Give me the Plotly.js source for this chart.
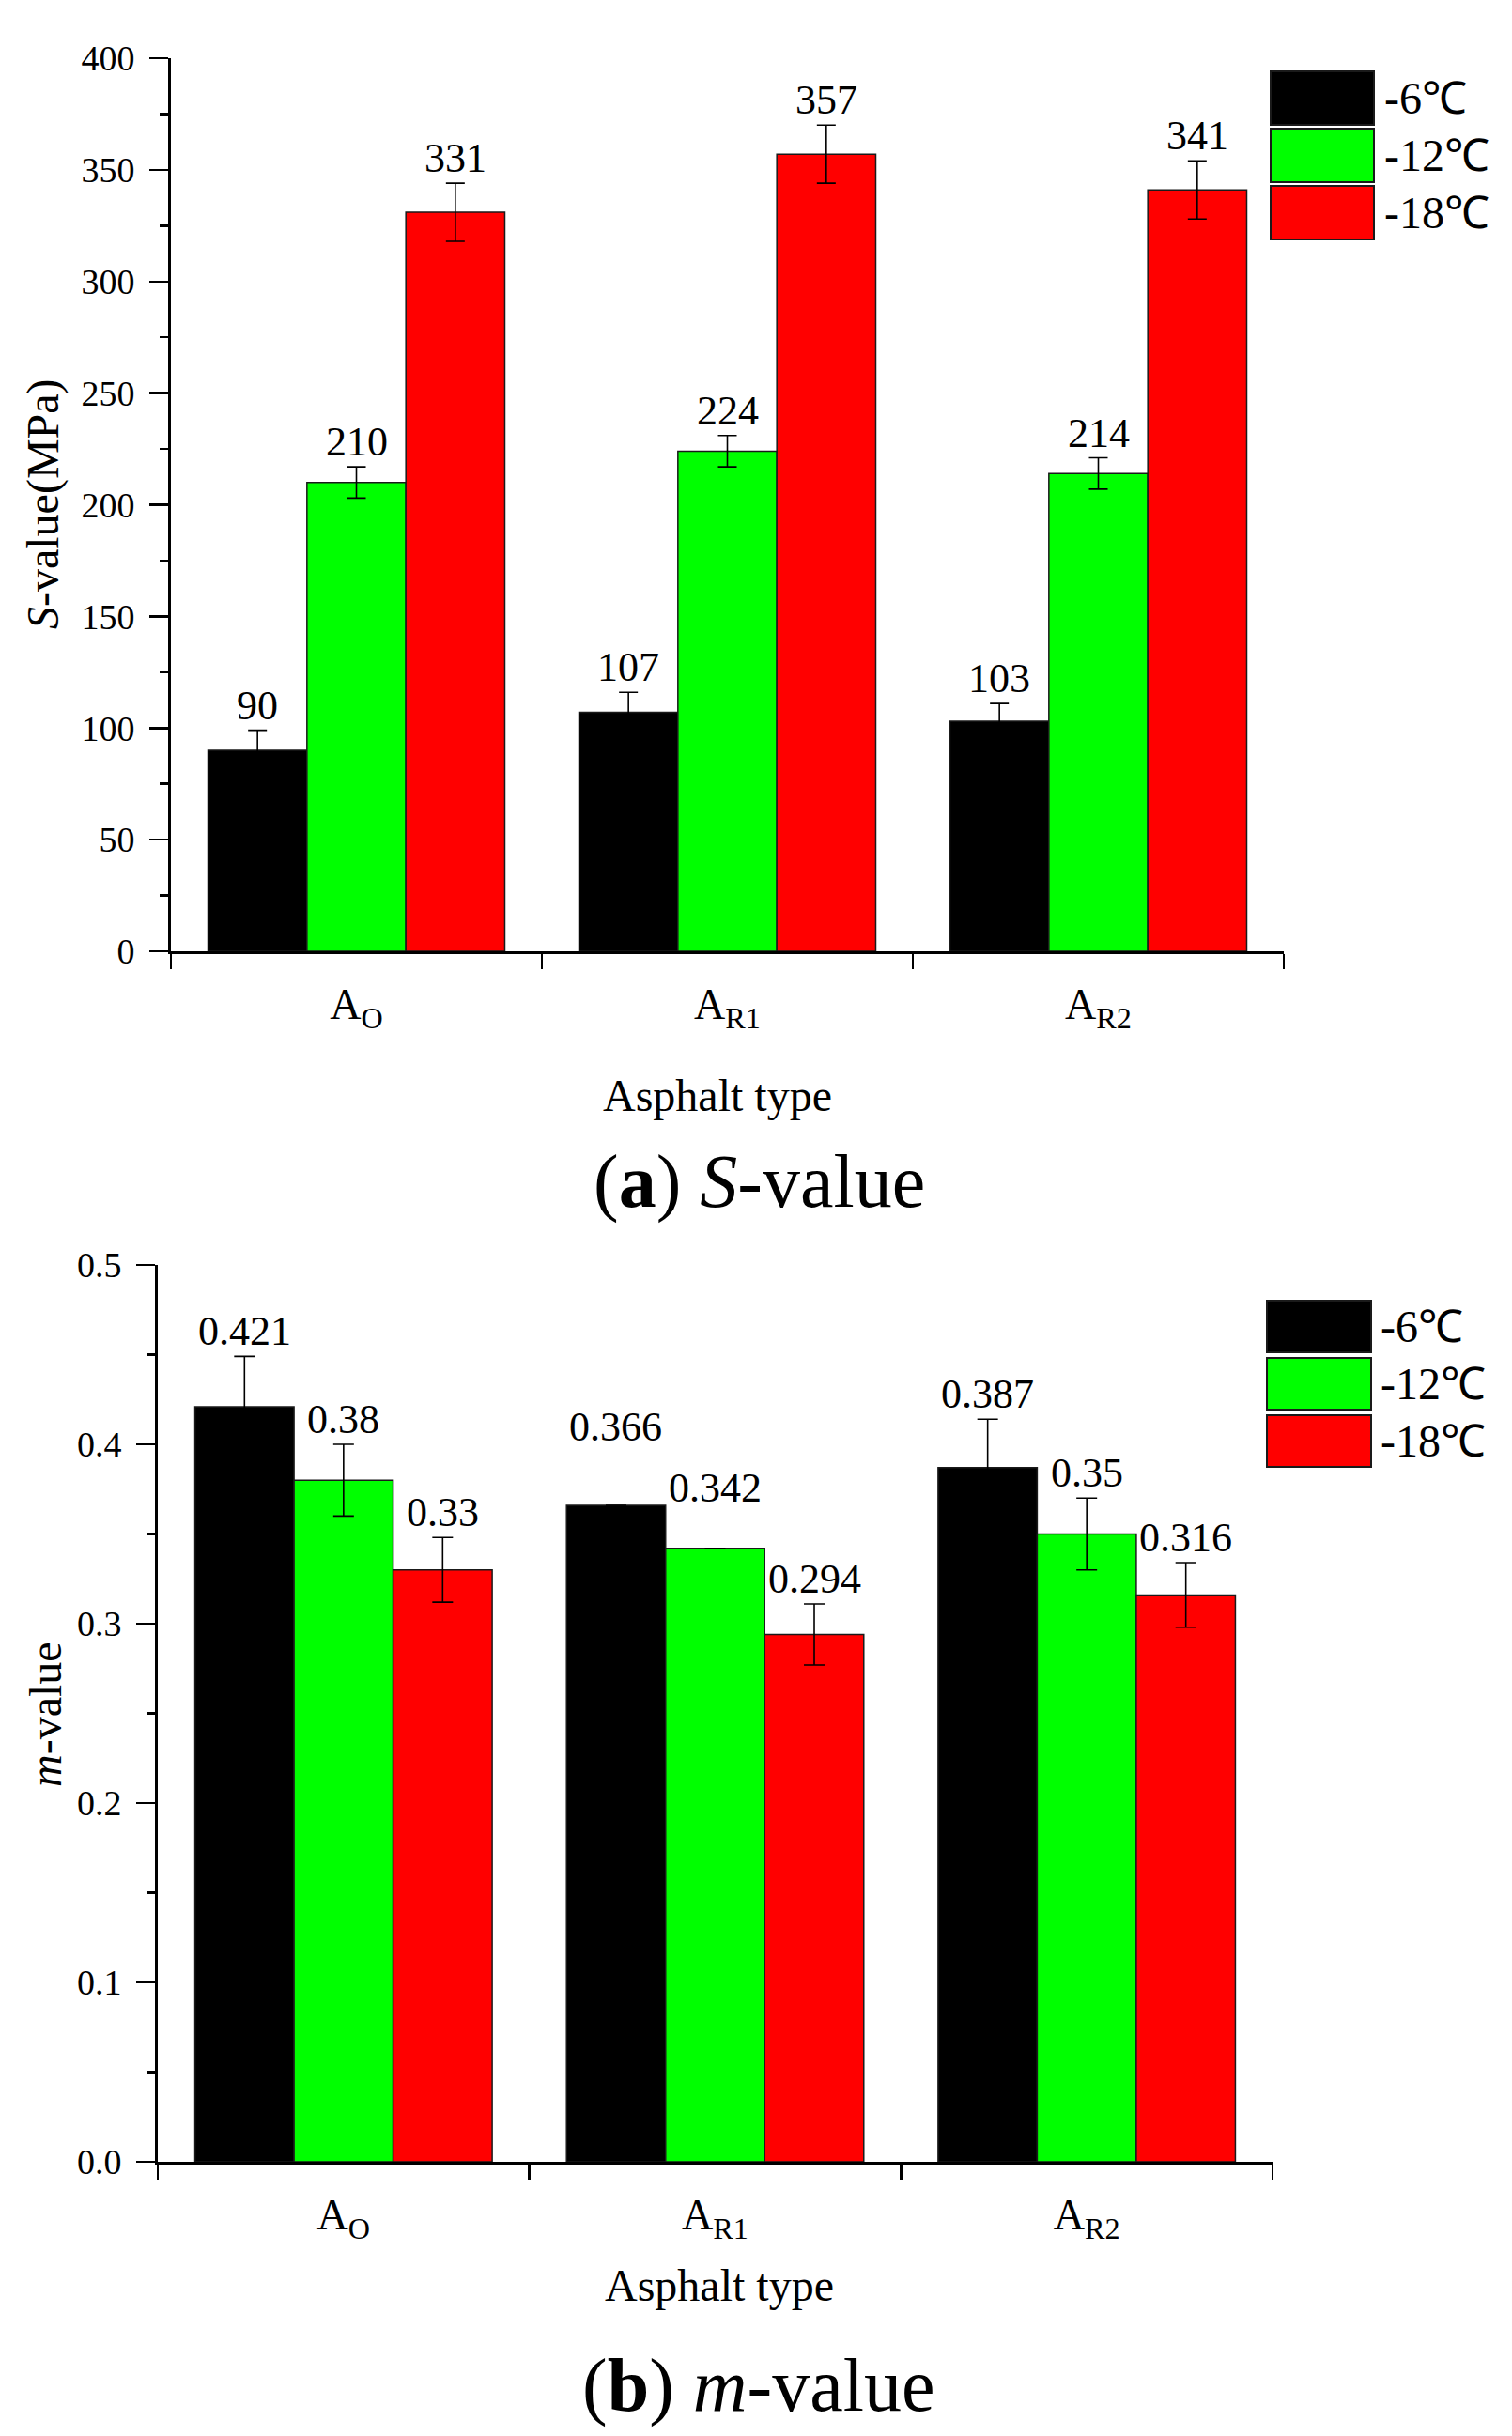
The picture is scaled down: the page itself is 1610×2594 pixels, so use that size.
<!DOCTYPE html>
<html>
<head>
<meta charset="utf-8">
<script src="https://cdn.plot.ly/plotly-3.0.1.min.js"></script>
<style>
  html, body { margin: 0; padding: 0; background: #fff; }
  #myDiv { width: 1610px; height: 2594px; }
</style>
</head>
<body>
<div id="myDiv"></div>
<script>
  // categories and series
  var categories = ['A<sub>O</sub>', 'A<sub>R1</sub>', 'A<sub>R2</sub>'];
  var seriesNames = ['-6℃', '-12℃', '-18℃'];
  var seriesColors = ['#000000', '#00ff00', '#ff0000'];

  // (a) S-value, MPa
  var sMinus6 = [90, 107, 103];
  var sMinus12 = [210, 224, 214];
  var sMinus18 = [331, 357, 341];
  var sErrMinus6 = [9, 9, 8];
  var sErrMinus12 = [7, 7, 7];
  var sErrMinus18 = [13, 13, 13];

  // (b) m-value  (null = no error bar shown)
  var mMinus6 = [0.421, 0.366, 0.387];
  var mMinus12 = [0.38, 0.342, 0.35];
  var mMinus18 = [0.33, 0.294, 0.316];
  var mErrMinus6 = [0.028, null, 0.027];
  var mErrMinus12 = [0.02, null, 0.02];
  var mErrMinus18 = [0.018, 0.017, 0.018];
  // how far each value label sits above its bar top
  var mLiftMinus6 = [0.028, 0.03, 0.027];
  var mLiftMinus12 = [0.02, 0.02, 0.02];
  var mLiftMinus18 = [0.018, 0.017, 0.018];

  var W = 1610, H = 2594;
  var serif = "Liberation Serif, Times New Roman, serif";
  var bargap = 0.2;
  var px = function (x) { return x / W; };   // pixel -> paper
  var py = function (y) { return 1 - y / H; };

  var dom1 = { x: [px(182), px(1367)], y: [py(1013), py(62)] };
  var dom2 = { x: [px(168), px(1355)], y: [py(2302), py(1347)] };

  var sVals = [sMinus6, sMinus12, sMinus18];
  var sErrs = [sErrMinus6, sErrMinus12, sErrMinus18];
  var mVals = [mMinus6, mMinus12, mMinus18];
  var mErrs = [mErrMinus6, mErrMinus12, mErrMinus18];
  var mLift = [mLiftMinus6, mLiftMinus12, mLiftMinus18];

  var data = [];
  var annotations = [];
  var shapes = [];

  function addPanel(vals, errs, lifts, xa, ya, dom, capW) {
    var plotW = (dom.x[1] - dom.x[0]) * W;
    var barW = plotW / categories.length * (1 - bargap) / vals.length;
    for (var i = 0; i < vals.length; i++) {
      data.push({
        type: 'bar',
        name: seriesNames[i],
        x: categories,
        y: vals[i],
        xaxis: xa, yaxis: ya,
        showlegend: false,
        marker: { color: seriesColors[i], line: { color: '#1a1a1a', width: 1.5 } },
        error_y: { type: 'data', array: errs[i], visible: true, color: '#000', thickness: 1.6, width: capW }
      });
      for (var j = 0; j < categories.length; j++) {
        annotations.push({
          xref: xa, yref: ya,
          x: categories[j], y: vals[i][j] + (lifts[i][j] || 0),
          xshift: (i - 1) * barW,
          yanchor: 'bottom', showarrow: false,
          text: String(vals[i][j]),
          font: { family: serif, size: 44, color: '#000' }
        });
      }
    }
  }

  addPanel(sVals, sErrs, sErrs, 'x', 'y', dom1, 10);
  addPanel(mVals, mErrs, mLift, 'x2', 'y2', dom2, 11);

  // legend boxes, one per panel
  function addLegend(x0, x1, top, h, step, textX) {
    for (var i = 0; i < seriesNames.length; i++) {
      var y0 = top + i * step;
      shapes.push({
        type: 'rect', xref: 'paper', yref: 'paper',
        x0: px(x0), x1: px(x1), y0: py(y0 + h), y1: py(y0),
        fillcolor: seriesColors[i], line: { color: '#1a1a1a', width: 2 }
      });
      annotations.push({
        xref: 'paper', yref: 'paper', x: px(textX), y: py(y0 + h / 2),
        xanchor: 'left', yanchor: 'middle', showarrow: false,
        text: seriesNames[i], font: { family: serif, size: 48, color: '#000' }
      });
    }
  }
  addLegend(1353, 1463, 76, 57, 61, 1472);
  addLegend(1349, 1460, 1385, 55, 61, 1468);

  // axis titles and captions
  var texts = [
    { x: 46, y: 537, text: '<i>S</i>-value(MPa)', size: 48, angle: -90 },
    { x: 764, y: 1166, text: 'Asphalt type', size: 48, angle: 0 },
    { x: 808, y: 1258, text: '(<b>a</b>) <i>S</i>-value', size: 80, angle: 0 },
    { x: 48, y: 1826, text: '<i>m</i>-value', size: 48, angle: -90 },
    { x: 766, y: 2433, text: 'Asphalt type', size: 48, angle: 0 },
    { x: 807, y: 2540, text: '(<b>b</b>) <i>m</i>-value', size: 80, angle: 0 }
  ];
  texts.forEach(function (t) {
    annotations.push({
      xref: 'paper', yref: 'paper', x: px(t.x), y: py(t.y),
      xanchor: 'center', yanchor: 'middle', showarrow: false, textangle: t.angle,
      text: t.text, font: { family: serif, size: t.size, color: '#000' }
    });
  });

  function xAxis(dom, anchor) {
    return {
      domain: dom.x, anchor: anchor,
      showline: true, linecolor: '#000', linewidth: 3,
      ticks: 'outside', tickson: 'boundaries', ticklen: 16, tickwidth: 2.5, tickcolor: '#000',
      ticklabelstandoff: 14,
      tickfont: { family: serif, size: 46, color: '#000' },
      showgrid: false, zeroline: false, fixedrange: true
    };
  }
  function yAxis(dom, anchor, range, dtick, minor, fmt) {
    return {
      domain: dom.y, anchor: anchor, range: range, dtick: dtick, tick0: 0, tickformat: fmt,
      showline: true, linecolor: '#000', linewidth: 3,
      ticks: 'outside', ticklen: 20, tickwidth: 2.5, tickcolor: '#000',
      minor: { dtick: minor, ticks: 'outside', ticklen: 9, tickwidth: 2.5, tickcolor: '#000', showgrid: false },
      ticklabelstandoff: 8,
      tickfont: { family: serif, size: 38, color: '#000' },
      showgrid: false, zeroline: false, fixedrange: true
    };
  }

  var layout = {
    width: W, height: H,
    margin: { l: 0, r: 0, t: 0, b: 0 },
    paper_bgcolor: '#fff', plot_bgcolor: '#fff',
    barmode: 'group', bargap: bargap, bargroupgap: 0,
    showlegend: false,
    xaxis: xAxis(dom1, 'y'),
    yaxis: yAxis(dom1, 'x', [0, 400], 50, 25, ''),
    xaxis2: xAxis(dom2, 'y2'),
    yaxis2: yAxis(dom2, 'x2', [0, 0.5], 0.1, 0.05, '.1f'),
    annotations: annotations,
    shapes: shapes
  };

  Plotly.newPlot('myDiv', data, layout, { staticPlot: true });
</script>
</body>
</html>
